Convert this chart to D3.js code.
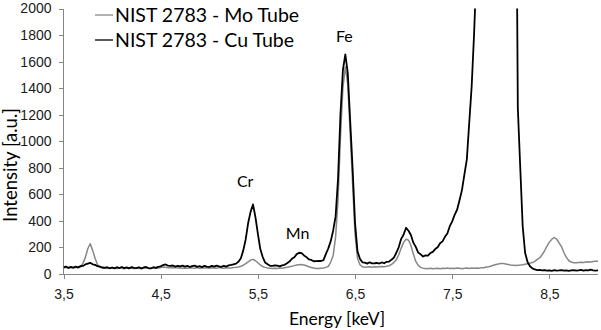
<!DOCTYPE html>
<html>
<head>
<meta charset="utf-8">
<script src="https://cdnjs.cloudflare.com/ajax/libs/d3/7.8.5/d3.min.js"></script>
<style>
  body { margin: 0; background: #fff; }
  .axis path, .axis line { stroke: #868686; shape-rendering: crispEdges; }
  .axis text { font-family: "Liberation Sans", Arial, sans-serif; font-size: 14px; fill: #1a1a1a; }
  .label { font-family: Lato, "Open Sans", sans-serif; fill: #000; }
  .spectrum { fill: none; stroke-linejoin: round; }
</style>
</head>
<body>
<div id="chart"></div>
<script>
// energy grid [keV], every 0.025 keV
var energy = [
  3.500,3.525,3.550,3.575,3.600,3.625,3.650,3.675,3.700,3.725,
  3.750,3.775,3.800,3.825,3.850,3.875,3.900,3.925,3.950,3.975,
  4.000,4.025,4.050,4.075,4.100,4.125,4.150,4.175,4.200,4.225,
  4.250,4.275,4.300,4.325,4.350,4.375,4.400,4.425,4.450,4.475,
  4.500,4.525,4.550,4.575,4.600,4.625,4.650,4.675,4.700,4.725,
  4.750,4.775,4.800,4.825,4.850,4.875,4.900,4.925,4.950,4.975,
  5.000,5.025,5.050,5.075,5.100,5.125,5.150,5.175,5.200,5.225,
  5.250,5.275,5.300,5.325,5.350,5.375,5.400,5.425,5.450,5.475,
  5.500,5.525,5.550,5.575,5.600,5.625,5.650,5.675,5.700,5.725,
  5.750,5.775,5.800,5.825,5.850,5.875,5.900,5.925,5.950,5.975,
  6.000,6.025,6.050,6.075,6.100,6.125,6.150,6.175,6.200,6.225,
  6.250,6.275,6.300,6.325,6.350,6.375,6.400,6.425,6.450,6.475,
  6.500,6.525,6.550,6.575,6.600,6.625,6.650,6.675,6.700,6.725,
  6.750,6.775,6.800,6.825,6.850,6.875,6.900,6.925,6.950,6.975,
  7.000,7.025,7.050,7.075,7.100,7.125,7.150,7.175,7.200,7.225,
  7.250,7.275,7.300,7.325,7.350,7.375,7.400,7.425,7.450,7.475,
  7.500,7.525,7.550,7.575,7.600,7.625,7.650,7.675,7.700,7.725,
  7.750,7.775,7.800,7.825,7.850,7.875,7.900,7.925,7.950,7.975,
  8.000,8.025,8.050,8.075,8.100,8.125,8.150,8.175,8.200,8.225,
  8.250,8.275,8.300,8.325,8.350,8.375,8.400,8.425,8.450,8.475,
  8.500,8.525,8.550,8.575,8.600,8.625,8.650,8.675,8.700,8.725,
  8.750,8.775,8.800,8.825,8.850,8.875,8.900,8.925,8.950,8.975,
  9.000
];

// NIST 2783 - Mo Tube (grey)
var moTube = [
  46,50,44,48,45,50,47,55,80,125,
  190,228,178,118,70,50,44,47,42,45,
  43,46,41,45,44,40,46,42,45,41,
  43,45,40,44,46,42,41,45,43,46,
  48,52,50,47,49,45,48,46,47,44,
  46,43,47,45,44,48,43,46,45,47,
  44,47,45,43,48,46,44,47,45,46,
  48,50,53,58,66,78,92,105,110,100,
  85,68,56,50,45,43,41,44,42,45,
  44,47,50,54,58,63,67,70,71,68,
  62,55,49,45,42,41,43,45,50,58,
  90,140,280,560,1030,1400,1560,1430,1060,680,
  300,120,70,55,50,52,54,51,55,53,
  55,57,54,58,62,72,86,108,145,195,
  238,262,255,215,150,95,65,50,44,42,
  40,43,39,42,44,40,43,41,45,42,
  44,41,45,43,40,44,46,42,45,43,
  46,44,48,47,52,55,60,66,72,76,
  80,79,76,72,68,66,64,65,68,70,
  74,78,82,86,95,110,122,145,175,210,
  240,262,275,262,235,205,160,125,100,90,
  85,84,86,88,87,90,92,91,94,96,
  96
];

// NIST 2783 - Cu Tube (black); the Cu scatter peak runs off the top
var cuTube = [
  50,56,46,53,48,56,50,59,61,72,
  78,84,73,69,59,56,49,47,51,43,
  49,42,51,45,53,44,50,43,52,46,
  44,51,42,49,53,45,43,51,46,54,
  58,67,72,63,61,64,56,62,57,63,
  55,61,53,60,63,54,59,52,61,56,
  53,61,55,63,57,54,62,56,65,68,
  73,78,92,118,178,262,384,468,524,428,
  304,188,128,86,74,62,61,65,63,57,
  65,69,81,94,114,126,150,160,158,140,
  127,110,106,96,97,99,98,104,152,193,
  248,328,434,718,1205,1535,1655,1515,1155,795,
  384,172,115,88,86,78,88,80,81,83,
  79,87,81,92,94,107,123,160,203,265,
  298,348,326,294,236,204,161,148,132,140,
  139,158,167,188,202,232,246,280,305,360,
  396,446,484,556,632,748,862,1138,1412,1810,
  2300,2800,3300,3800,4300,4800,5300,5800,6300,6800,
  7300,7600,7500,7000,6000,5000,4000,1250,800,360,
  160,90,58,42,34,29,31,27,30,26,
  28,24,29,25,27,30,26,28,24,27,
  29,25,28,31,26,30,27,33,28,26,
  28
];

var seriesNames = ["NIST 2783 - Mo Tube", "NIST 2783 - Cu Tube"];
var xTicks = [3.5, 4.5, 5.5, 6.5, 7.5, 8.5];
var xTickLabels = ["3,5", "4,5", "5,5", "6,5", "7,5", "8,5"];
var yTicks = [0, 200, 400, 600, 800, 1000, 1200, 1400, 1600, 1800, 2000];
var peakNames = ["Cr", "Mn", "Fe"];
var peakEnergy = [5.37, 5.91, 6.39];
var peakIntensity = [655, 265, 1745];

var width = 601, height = 330;
var margins = {top: 8.5, left: 63.5, right: 3, bottom: 56};
var colors = ["#878787", "#000000"];

var x = d3.scaleLinear().domain([3.5, 9.0]).range([margins.left, width - margins.right]);
var y = d3.scaleLinear().domain([0, 2000]).range([height - margins.bottom, margins.top]);

var svg = d3.select("#chart").append("svg")
  .attr("width", width)
  .attr("height", height);

svg.append("clipPath").attr("id", "plot")
  .append("rect")
  .attr("x", x(3.5))
  .attr("y", y(2000))
  .attr("width", x(9.0) - x(3.5))
  .attr("height", y(0) - y(2000));

renderAxes();
renderLines();
renderLabels();
renderLegend();

function renderAxes() {
  var xAxis = d3.axisBottom(x)
    .tickValues(xTicks)
    .tickSize(5)
    .tickPadding(10)
    .tickFormat(function (d, i) { return xTickLabels[i]; });

  svg.append("g")
    .attr("class", "x axis")
    .attr("transform", "translate(0," + y(0) + ")")
    .call(xAxis)
    .call(function (g) { g.select(".domain").attr("d", "M" + x(3.5) + ",0H" + x(9.0)); });

  var yAxis = d3.axisLeft(y)
    .tickValues(yTicks)
    .tickSize(5)
    .tickPadding(7)
    .tickFormat(d3.format("d"));

  svg.append("g")
    .attr("class", "y axis")
    .attr("transform", "translate(" + x(3.5) + ",0)")
    .call(yAxis)
    .call(function (g) { g.select(".domain").attr("d", "M0," + y(0) + "V" + y(2000)); });
}

function renderLines() {
  var series = [moTube, cuTube];
  var line = d3.line()
    .x(function (d, i) { return x(energy[i]); })
    .y(function (d) { return y(d); });

  svg.append("g")
    .attr("clip-path", "url(#plot)")
    .selectAll("path.spectrum")
    .data(series)
    .enter()
    .append("path")
    .attr("class", "spectrum")
    .style("stroke", function (d, i) { return colors[i]; })
    .style("stroke-width", function (d, i) { return i == 0 ? 1.5 : 1.8; })
    .attr("d", line);
}

function renderLabels() {
  svg.selectAll("text.peak")
    .data(peakNames)
    .enter()
    .append("text")
    .attr("class", "label peak")
    .attr("x", function (d, i) { return x(peakEnergy[i]); })
    .attr("y", function (d, i) { return y(peakIntensity[i]); })
    .attr("text-anchor", "middle")
    .style("font-size", "16px")
    .text(function (d) { return d; });

  svg.append("text")
    .attr("class", "label")
    .attr("x", 337)
    .attr("y", 325)
    .attr("text-anchor", "middle")
    .style("font-size", "17.5px")
    .text("Energy [keV]");

  svg.append("text")
    .attr("class", "label")
    .attr("transform", "translate(17,165) rotate(-90)")
    .attr("text-anchor", "middle")
    .style("font-size", "18.5px")
    .text("Intensity [a.u.]");
}

function renderLegend() {
  var legend = svg.selectAll("g.legend")
    .data(seriesNames)
    .enter()
    .append("g")
    .attr("class", "legend")
    .attr("transform", function (d, i) { return "translate(95," + (15 + i * 25) + ")"; });

  legend.append("line")
    .attr("x1", 0).attr("x2", 18)
    .attr("y1", 0).attr("y2", 0)
    .style("stroke", function (d, i) { return colors[i]; })
    .style("stroke-width", 1.3);

  legend.append("text")
    .attr("class", "label")
    .attr("x", 20)
    .attr("y", 6.5)
    .style("font-size", "19.5px")
    .text(function (d) { return d; });
}
</script>
</body>
</html>
